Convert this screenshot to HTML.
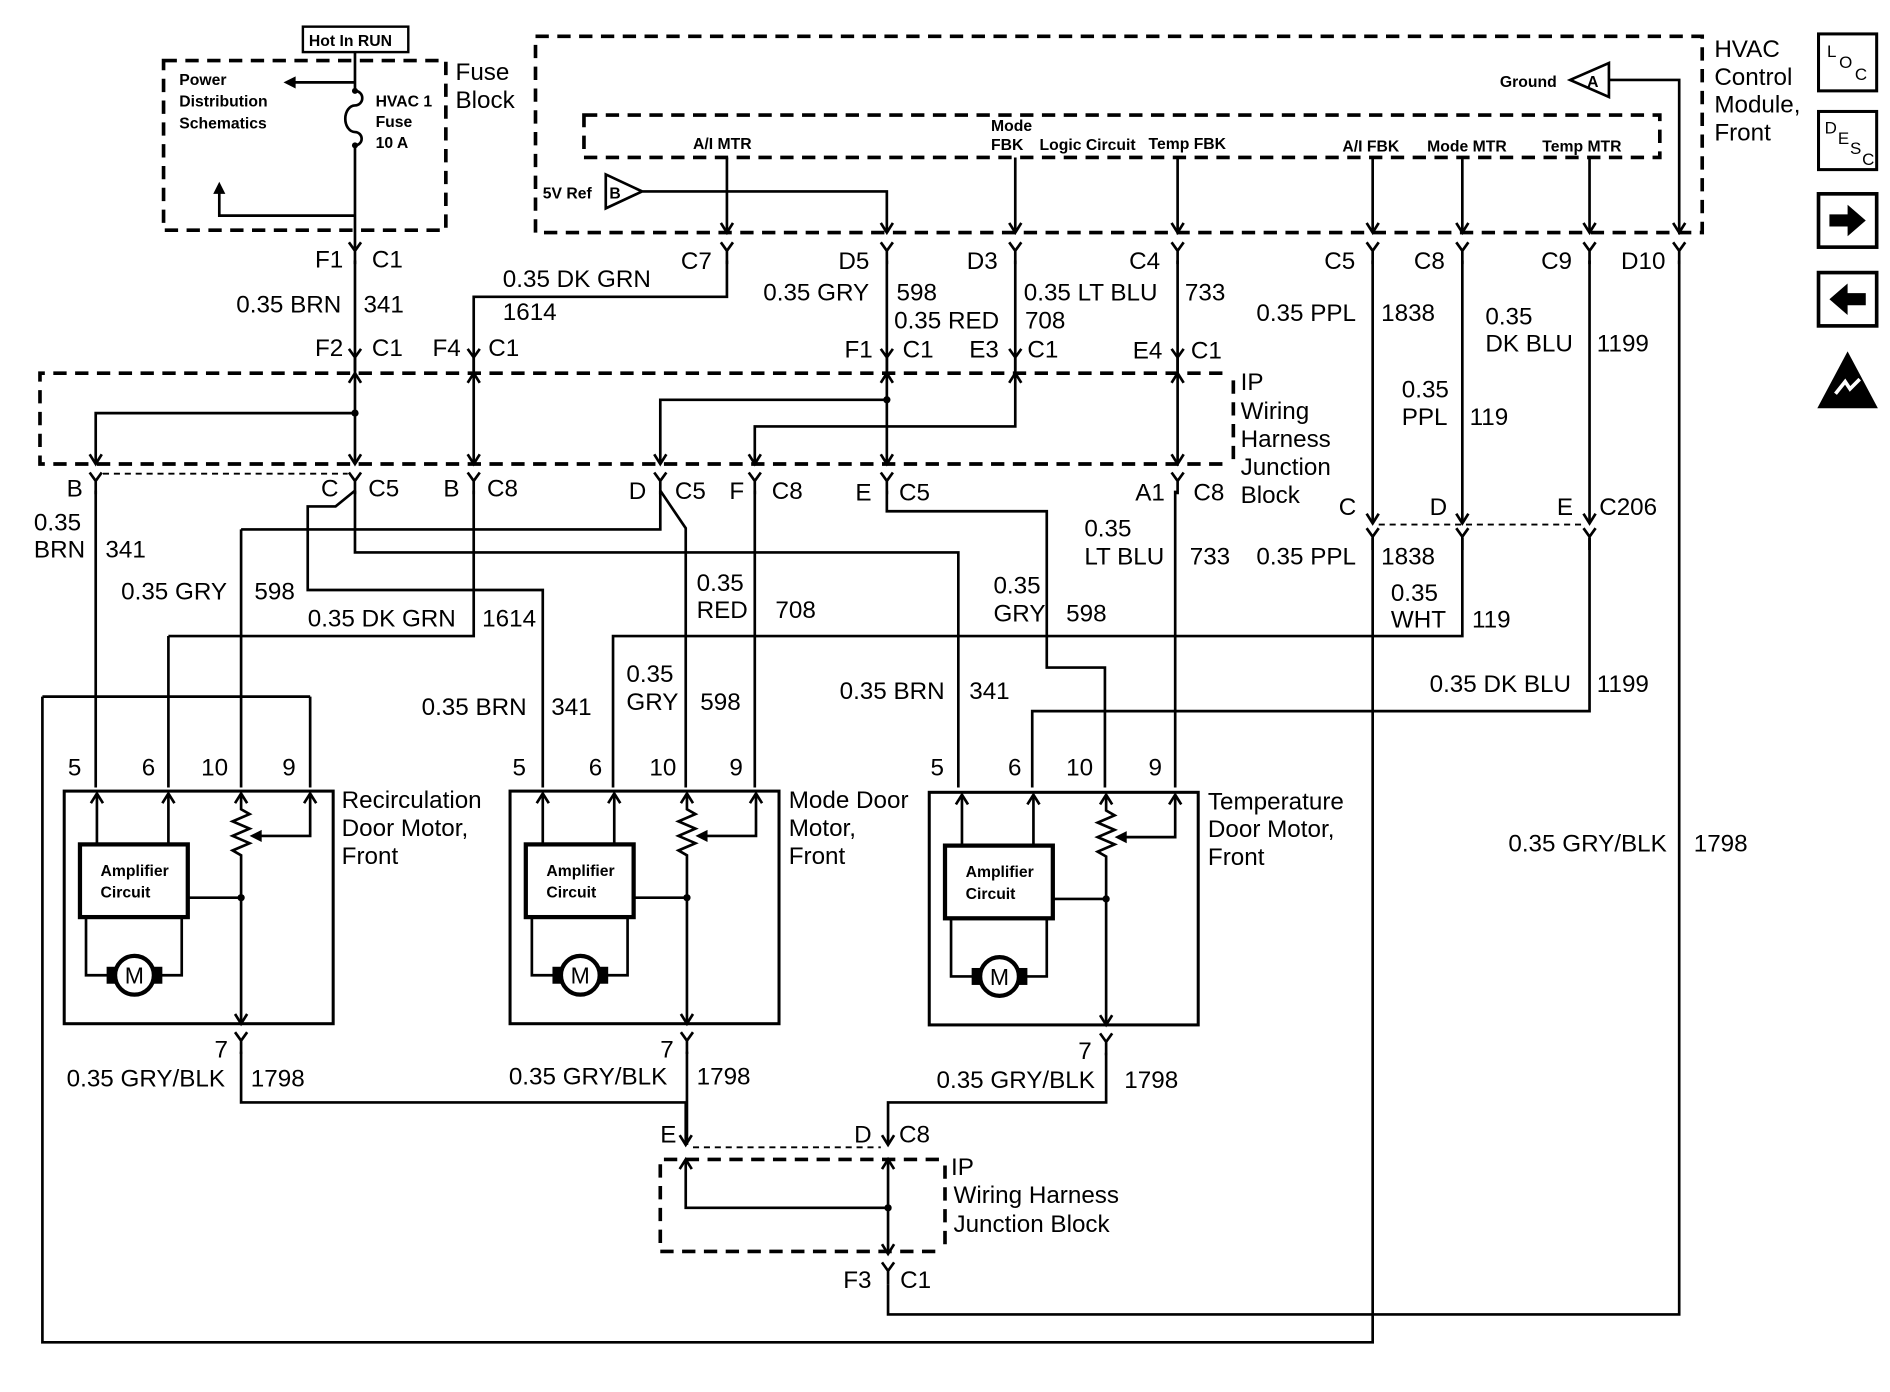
<!DOCTYPE html>
<html><head><meta charset="utf-8"><style>
html,body{margin:0;padding:0;background:#fff;}
svg{display:block;}
text{font-family:"Liberation Sans",sans-serif;fill:#000;}
.w{stroke:#000;stroke-width:2.2;fill:none;}
.d{stroke:#000;stroke-width:3;fill:none;stroke-dasharray:11 7;}
.t{stroke:#000;stroke-width:1.5;fill:none;stroke-dasharray:5 4;}
.L{font-size:20px;}
.S{font-size:13px;font-weight:bold;}
</style></head><body>
<svg width="1890" height="1392" viewBox="0 0 1560 1149" preserveAspectRatio="none" xmlns="http://www.w3.org/2000/svg">
<defs>
<g id="fy"><path class="w" d="M-5,-8 L0,-1 L5,-8 M0,-1 V10"/></g>
<g id="ad"><path d="M-5,-8 L0,0 L5,-8" class="w"/></g>
<g id="au"><path d="M-5,8 L0,0 L5,8" class="w"/></g>
</defs>

<!-- Fuse block -->
<rect x="250" y="22" width="87" height="21" fill="none" stroke="#000" stroke-width="2"/>
<text x="255" y="38" class="S">Hot In RUN</text>
<rect x="135" y="50" width="233" height="140" class="d"/>
<text x="148" y="70" class="S">Power</text>
<text x="148" y="88" class="S">Distribution</text>
<text x="148" y="106" class="S">Schematics</text>
<path class="w" d="M293,43 V75 M293,120 V205 M293,68 H240"/>
<path d="M234,68 L244,63 L244,73 Z"/>
<path class="w" d="M293,75 a6,6 0 0 1 0,12 a8,11 0 0 0 0,22 a5,5 0 0 1 0,11"/>
<circle cx="293" cy="75" r="2.5"/><circle cx="293" cy="120" r="2.5"/>
<text x="310" y="88" class="S">HVAC 1</text><text x="310" y="105" class="S">Fuse</text><text x="310" y="122" class="S">10 A</text>
<path class="w" d="M181,158 V178 H293"/><path d="M181,150 L176,160 L186,160 Z"/>
<text x="376" y="66" class="L">Fuse</text><text x="376" y="89" class="L">Block</text>

<!-- HVAC module -->
<rect x="442" y="30" width="963" height="162" class="d"/>
<rect x="482" y="95" width="888" height="35" class="d"/>
<text x="572" y="123" class="S">A/I MTR</text>
<text x="818" y="108" class="S">Mode</text><text x="818" y="124" class="S">FBK</text>
<text x="858" y="124" class="S">Logic Circuit</text>
<text x="948" y="123" class="S">Temp FBK</text>
<text x="1108" y="125" class="S">A/I FBK</text>
<text x="1178" y="125" class="S">Mode MTR</text>
<text x="1273" y="125" class="S">Temp MTR</text>
<text x="1238" y="72" class="S">Ground</text>
<path class="w" d="M1296,66 L1328,52 V80 Z M1328,66 H1386 V192"/>
<text x="1310" y="72" class="S">A</text>
<text x="448" y="164" class="S">5V Ref</text>
<path class="w" d="M500,144 L530,158 L500,172 Z M530,158 H732 V192"/>
<text x="503" y="164" class="S">B</text>
<path class="w" d="M600,130 V192 M838,130 V192 M972,130 V192 M1133,130 V192 M1207,130 V192 M1312,130 V192"/>
<use href="#ad" x="600" y="192"/><use href="#ad" x="732" y="192"/><use href="#ad" x="838" y="192"/><use href="#ad" x="972" y="192"/>
<use href="#ad" x="1133" y="192"/><use href="#ad" x="1207" y="192"/><use href="#ad" x="1312" y="192"/><use href="#ad" x="1386" y="192"/>
<text x="1415" y="47" class="L">HVAC</text><text x="1415" y="70" class="L">Control</text><text x="1415" y="93" class="L">Module,</text><text x="1415" y="116" class="L">Front</text>

<!-- top connectors -->
<use href="#fy" x="293" y="208"/><use href="#fy" x="600" y="208"/><use href="#fy" x="732" y="208"/><use href="#fy" x="838" y="208"/>
<use href="#fy" x="972" y="208"/><use href="#fy" x="1133" y="208"/><use href="#fy" x="1207" y="208"/><use href="#fy" x="1312" y="208"/><use href="#fy" x="1386" y="208"/>
<text x="260" y="221" class="L">F1</text><text x="307" y="221" class="L">C1</text>
<text x="562" y="222" class="L">C7</text><text x="692" y="222" class="L">D5</text><text x="798" y="222" class="L">D3</text>
<text x="932" y="222" class="L">C4</text><text x="1093" y="222" class="L">C5</text><text x="1167" y="222" class="L">C8</text>
<text x="1272" y="222" class="L">C9</text><text x="1338" y="222" class="L">D10</text>

<path class="w" d="M293,215 V308 M600,215 V245 H391 V308 M732,215 V308 M838,215 V308 M972,215 V308 M1133,215 V432 M1207,215 V432 M1312,215 V432"/>
<text x="195" y="258" class="L">0.35 BRN</text><text x="300" y="258" class="L">341</text>
<text x="415" y="237" class="L">0.35 DK GRN</text><text x="415" y="264" class="L">1614</text>
<text x="630" y="248" class="L">0.35 GRY</text><text x="740" y="248" class="L">598</text>
<text x="738" y="271" class="L">0.35 RED</text><text x="846" y="271" class="L">708</text>
<text x="845" y="248" class="L">0.35 LT BLU</text><text x="978" y="248" class="L">733</text>
<text x="1037" y="265" class="L">0.35 PPL</text><text x="1140" y="265" class="L">1838</text>
<text x="1226" y="268" class="L">0.35</text><text x="1226" y="290" class="L">DK BLU</text><text x="1318" y="290" class="L">1199</text>
<text x="1157" y="328" class="L">0.35</text><text x="1157" y="351" class="L">PPL</text><text x="1213" y="351" class="L">119</text>
<use href="#fy" x="293" y="296"/><use href="#fy" x="391" y="296"/><use href="#fy" x="732" y="296"/><use href="#fy" x="838" y="296"/><use href="#fy" x="972" y="296"/>
<use href="#au" x="293" y="308"/><use href="#au" x="391" y="308"/><use href="#au" x="732" y="308"/><use href="#au" x="838" y="308"/><use href="#au" x="972" y="308"/>
<text x="260" y="294" class="L">F2</text><text x="307" y="294" class="L">C1</text>
<text x="357" y="294" class="L">F4</text><text x="403" y="294" class="L">C1</text>
<text x="697" y="295" class="L">F1</text><text x="745" y="295" class="L">C1</text>
<text x="800" y="295" class="L">E3</text><text x="848" y="295" class="L">C1</text>
<text x="935" y="296" class="L">E4</text><text x="983" y="296" class="L">C1</text>

<!-- IP block -->
<path class="d" d="M1009,308 H33 V383 H1009 M1018,314 V383"/>
<text x="1024" y="322" class="L">IP</text><text x="1024" y="346" class="L">Wiring</text><text x="1024" y="369" class="L">Harness</text>
<text x="1024" y="392" class="L">Junction</text><text x="1024" y="415" class="L">Block</text>
<path class="w" d="M293,308 V383 M293,341 H79 V383 M391,308 V383 M732,308 V383 M732,330 H545 V383 M838,308 V352 H623 V383 M972,308 V383"/>
<circle cx="293" cy="341" r="3"/><circle cx="732" cy="330" r="3"/>
<use href="#ad" x="79" y="383"/><use href="#ad" x="293" y="383"/><use href="#ad" x="391" y="383"/><use href="#ad" x="545" y="383"/>
<use href="#ad" x="623" y="383"/><use href="#ad" x="732" y="383"/><use href="#ad" x="972" y="383"/>
<use href="#fy" x="79" y="398"/><use href="#fy" x="293" y="398"/><use href="#fy" x="391" y="398"/><use href="#fy" x="545" y="398"/>
<use href="#fy" x="623" y="398"/><use href="#fy" x="732" y="398"/><use href="#fy" x="972" y="398"/>
<path class="t" d="M85,391 H287"/>
<text x="55" y="410" class="L">B</text><text x="265" y="410" class="L">C</text><text x="304" y="410" class="L">C5</text>
<text x="366" y="410" class="L">B</text><text x="402" y="410" class="L">C8</text>
<text x="519" y="412" class="L">D</text><text x="557" y="412" class="L">C5</text>
<text x="602" y="412" class="L">F</text><text x="637" y="412" class="L">C8</text>
<text x="706" y="413" class="L">E</text><text x="742" y="413" class="L">C5</text>
<text x="937" y="413" class="L">A1</text><text x="985" y="413" class="L">C8</text>

<!-- C206 -->
<use href="#ad" x="1133" y="432"/><use href="#ad" x="1207" y="432"/><use href="#ad" x="1312" y="432"/>
<use href="#fy" x="1133" y="444"/><use href="#fy" x="1207" y="444"/><use href="#fy" x="1312" y="444"/>
<path class="t" d="M1138,433 H1307"/>
<text x="1105" y="425" class="L">C</text><text x="1180" y="425" class="L">D</text><text x="1285" y="425" class="L">E</text><text x="1320" y="425" class="L">C206</text>

<!-- lower wiring -->
<path class="w" d="M79,405 V650 M139,525 V650 M199,437 V650 M256,575 V650 M35,575 H256"/>
<path class="w" d="M293,405 L277,418 H254 V487 H448 V650"/>
<path class="w" d="M1207,444 V525 H506 V650"/>
<path class="w" d="M545,405 L566,436 V650 M623,405 V650"/>
<path class="w" d="M293,405 V456 H791 V650"/>
<path class="w" d="M1312,444 V587 H852 V650"/>
<path class="w" d="M732,405 V422 H864 V551 H912 V650 M970,405 V650"/>
<path class="w" d="M545,405 V437 H199 M391,405 V525 H139"/>
<path class="w" d="M1133,444 V1108 H35 V575"/>
<path class="w" d="M1386,215 V1085 H733 V1060"/>

<text x="28" y="438" class="L">0.35</text><text x="28" y="460" class="L">BRN</text><text x="87" y="460" class="L">341</text>
<text x="100" y="495" class="L">0.35 GRY</text><text x="210" y="495" class="L">598</text>
<text x="254" y="517" class="L">0.35 DK GRN</text><text x="398" y="517" class="L">1614</text>
<text x="348" y="590" class="L">0.35 BRN</text><text x="455" y="590" class="L">341</text>
<text x="575" y="488" class="L">0.35</text><text x="575" y="510" class="L">RED</text><text x="640" y="510" class="L">708</text>
<text x="517" y="563" class="L">0.35</text><text x="517" y="586" class="L">GRY</text><text x="578" y="586" class="L">598</text>
<text x="895" y="443" class="L">0.35</text><text x="895" y="466" class="L">LT BLU</text><text x="982" y="466" class="L">733</text>
<text x="1037" y="466" class="L">0.35 PPL</text><text x="1140" y="466" class="L">1838</text>
<text x="820" y="490" class="L">0.35</text><text x="820" y="513" class="L">GRY</text><text x="880" y="513" class="L">598</text>
<text x="1148" y="496" class="L">0.35</text><text x="1148" y="518" class="L">WHT</text><text x="1215" y="518" class="L">119</text>
<text x="693" y="577" class="L">0.35 BRN</text><text x="800" y="577" class="L">341</text>
<text x="1180" y="571" class="L">0.35 DK BLU</text><text x="1318" y="571" class="L">1199</text>
<text x="1245" y="703" class="L">0.35 GRY/BLK</text><text x="1398" y="703" class="L">1798</text>

<text x="56" y="640" class="L">5</text><text x="117" y="640" class="L">6</text><text x="166" y="640" class="L">10</text><text x="233" y="640" class="L">9</text>
<text x="423" y="640" class="L">5</text><text x="486" y="640" class="L">6</text><text x="536" y="640" class="L">10</text><text x="602" y="640" class="L">9</text>
<text x="768" y="640" class="L">5</text><text x="832" y="640" class="L">6</text><text x="880" y="640" class="L">10</text><text x="948" y="640" class="L">9</text>

<!-- motor modules -->
<g id="mot">
<rect x="53" y="653" width="222" height="192" fill="none" stroke="#000" stroke-width="2.5"/>
<use href="#au" x="80" y="655"/><use href="#au" x="139" y="655"/><use href="#au" x="199" y="655"/><use href="#au" x="256" y="655"/>
<path class="w" d="M80,655 V697 M139,655 V697 M199,655 V668 l7,4 l-14,6 l14,6 l-14,6 l14,6 l-14,6 l7,4 V845 M256,655 V690 H212"/>
<path d="M206,690 L216,685 L216,695 Z"/>
<use href="#ad" x="199" y="845"/>
<rect x="66" y="697" width="89" height="60" fill="none" stroke="#000" stroke-width="3.5"/>
<text x="83" y="723" class="S">Amplifier</text><text x="83" y="741" class="S">Circuit</text>
<path class="w" d="M155,741 H199 M71,757 V805 H95 M150,757 V805 H127"/>
<circle cx="199" cy="741" r="3"/>
<rect x="88" y="798" width="7" height="14"/><rect x="127" y="798" width="7" height="14"/>
<circle cx="111" cy="805" r="16" fill="#fff" stroke="#000" stroke-width="3.5"/>
<text x="103" y="812" style="font-size:19px">M</text>
<use href="#fy" x="199" y="860"/>
</g>
<use href="#mot" x="368" y="0"/>
<use href="#mot" x="714" y="1"/>
<text x="282" y="667" class="L">Recirculation</text><text x="282" y="690" class="L">Door Motor,</text><text x="282" y="713" class="L">Front</text>
<text x="651" y="667" class="L">Mode Door</text><text x="651" y="690" class="L">Motor,</text><text x="651" y="713" class="L">Front</text>
<text x="997" y="668" class="L">Temperature</text><text x="997" y="691" class="L">Door Motor,</text><text x="997" y="714" class="L">Front</text>

<!-- bottom -->
<path class="w" d="M199,868 V910 H566 V945 M567,868 V945 M913,869 V910 H733 V945"/>
<text x="177" y="873" class="L">7</text><text x="55" y="897" class="L">0.35 GRY/BLK</text><text x="207" y="897" class="L">1798</text>
<text x="545" y="873" class="L">7</text><text x="420" y="895" class="L">0.35 GRY/BLK</text><text x="575" y="895" class="L">1798</text>
<text x="890" y="874" class="L">7</text><text x="773" y="898" class="L">0.35 GRY/BLK</text><text x="928" y="898" class="L">1798</text>
<use href="#ad" x="566" y="945"/><use href="#ad" x="733" y="945"/>
<path class="t" d="M572,947 H727"/>
<text x="545" y="943" class="L">E</text><text x="705" y="943" class="L">D</text><text x="742" y="943" class="L">C8</text>
<path class="d" d="M775,957 H545 V1033 H775 M780,962 V1030"/>
<use href="#au" x="566" y="957"/><use href="#au" x="733" y="957"/>
<path class="w" d="M566,957 V997 H733 M733,957 V1035"/>
<circle cx="733" cy="997" r="3"/>
<use href="#ad" x="733" y="1035"/><use href="#fy" x="733" y="1050"/>
<text x="785" y="970" class="L">IP</text><text x="787" y="993" class="L">Wiring Harness</text><text x="787" y="1017" class="L">Junction Block</text>
<text x="696" y="1063" class="L">F3</text><text x="743" y="1063" class="L">C1</text>

<!-- right icons -->
<rect x="1501" y="28" width="48" height="47" fill="none" stroke="#000" stroke-width="2.5"/>
<text x="1508" y="47" style="font-size:14px">L</text><text x="1518" y="56" style="font-size:14px">O</text><text x="1531" y="66" style="font-size:14px">C</text>
<rect x="1501" y="92" width="48" height="48" fill="none" stroke="#000" stroke-width="2.5"/>
<text x="1506" y="110" style="font-size:14px">D</text><text x="1517" y="119" style="font-size:14px">E</text><text x="1527" y="127" style="font-size:14px">S</text><text x="1537" y="136" style="font-size:14px">C</text>
<rect x="1501" y="160" width="48" height="44" fill="none" stroke="#000" stroke-width="3"/>
<path d="M1510,177 H1525 V169 L1540,182 L1525,195 V187 H1510 Z"/>
<rect x="1501" y="225" width="48" height="44" fill="none" stroke="#000" stroke-width="3"/>
<path d="M1540,242 H1525 V234 L1510,247 L1525,260 V252 H1540 Z"/>
<path d="M1525,290 L1500,337 H1550 Z"/>
<path d="M1515,325 l8,-10 l4,6 l8,-8" stroke="#fff" stroke-width="3" fill="none"/>
</svg>
</body></html>
